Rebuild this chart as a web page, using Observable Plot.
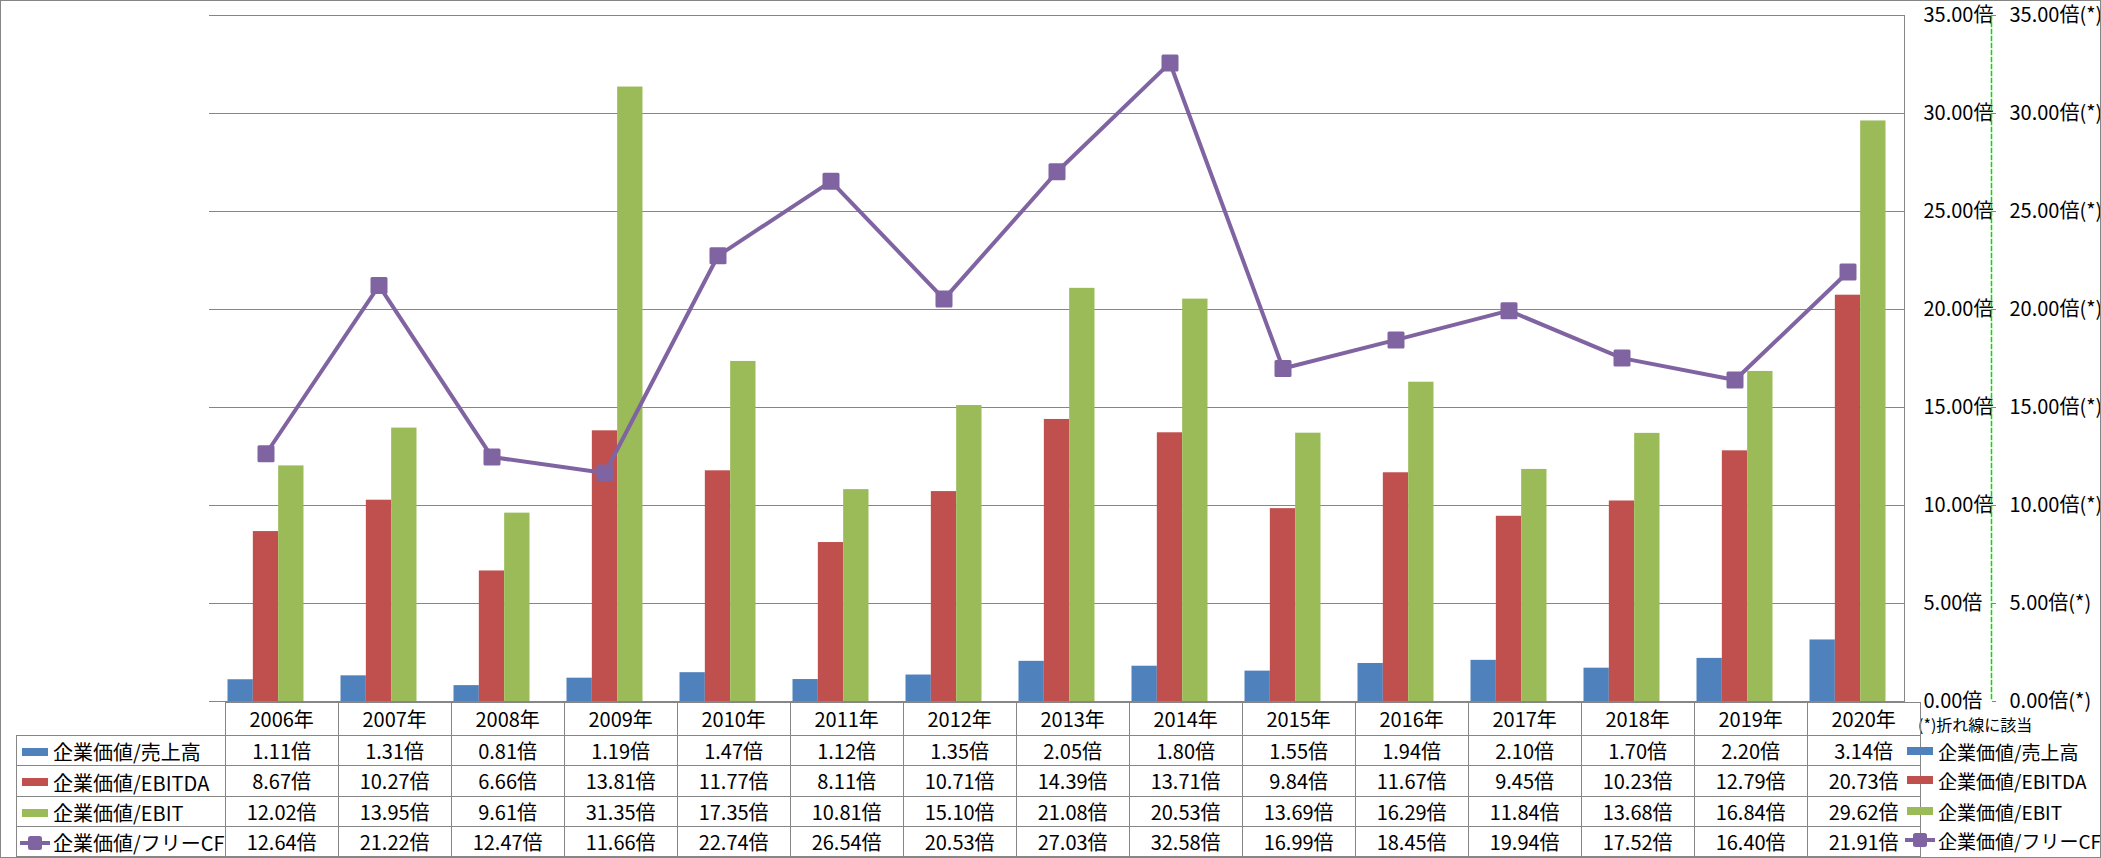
<!DOCTYPE html>
<html>
<head>
<meta charset="utf-8">
<script src="https://cdn.jsdelivr.net/npm/d3@7"></script>
<script src="https://cdn.jsdelivr.net/npm/@observablehq/plot@0.6"></script>
<style>
  html, body { margin: 0; padding: 0; background: #fff; }
  #wrap { position: relative; width: 2101px; height: 858px; overflow: hidden; background: #fff;
          font-family: "Liberation Sans Narrow", "Noto Sans CJK JP", sans-serif; color: #000; }
  #chart { position: absolute; left: 0; top: 0; }
  #border { position: absolute; left: 0; top: 0; width: 2101px; height: 858px; box-sizing: border-box;
            border: 1px solid #868686; pointer-events: none; }
  table { position: absolute; left: 16px; top: 702px; border-collapse: collapse; table-layout: fixed; font-size: 20px; }
  td { border: 1px solid #868686; text-align: center; padding: 0; white-space: nowrap; line-height: 1; }
  td.corner { border-top: none; border-left: none; }
  td.name { text-align: left; padding-left: 3px; }
  .key { display: inline-block; vertical-align: middle; margin-right: 3px; flex: none; }
  .legend { position: absolute; left: 1905px; top: 0; width: 194px; height: 858px; font-size: 19px; white-space: nowrap; }
  .legrow { position: absolute; left: 0; width: 194px; height: 24px; display: flex; align-items: center; }
  #note { position: absolute; left: 1918px; top: 712px; font-size: 16px; white-space: nowrap; }
</style>
</head>
<body>
<div id="wrap">
  <div id="chart"></div>
  <div id="note">(*)折れ線に該当</div>
  <div id="border"></div>
</div>
<script>
// ---- data ----
const years = ["2006年","2007年","2008年","2009年","2010年","2011年","2012年","2013年","2014年","2015年","2016年","2017年","2018年","2019年","2020年"];
const salesMultiple  = [1.11, 1.31, 0.81, 1.19, 1.47, 1.12, 1.35, 2.05, 1.80, 1.55, 1.94, 2.10, 1.70, 2.20, 3.14];
const ebitdaMultiple = [8.67, 10.27, 6.66, 13.81, 11.77, 8.11, 10.71, 14.39, 13.71, 9.84, 11.67, 9.45, 10.23, 12.79, 20.73];
const ebitMultiple   = [12.02, 13.95, 9.61, 31.35, 17.35, 10.81, 15.10, 21.08, 20.53, 13.69, 16.29, 11.84, 13.68, 16.84, 29.62];
const fcfMultiple    = [12.64, 21.22, 12.47, 11.66, 22.74, 26.54, 20.53, 27.03, 32.58, 16.99, 18.45, 19.94, 17.52, 16.40, 21.91];
const seriesNames  = ["企業価値/売上高", "企業価値/EBITDA", "企業価値/EBIT", "企業価値/フリーCF"];
const seriesColors = ["#4F81BD", "#C0504D", "#9BBB59", "#8064A2"];
const yTicks = [0, 5, 10, 15, 20, 25, 30, 35];

// ---- layout ----
const W = 2101, H = 703;
const mL = 209, mR = 197, mT = 15, mB = 2;
const bw = (W - mL - mR) / years.length;
const barW = 25.33;
const off0 = (bw - 3 * barW) / 2;

const barSeries = [salesMultiple, ebitdaMultiple, ebitMultiple];
const rows = (vals) => years.map((y, j) => ({year: y, v: vals[j]}));

const marks = [
  Plot.ruleY(yTicks, {stroke: "#868686", strokeOpacity: 1, strokeWidth: 1})
];
barSeries.forEach((vals, i) => {
  marks.push(Plot.barY(rows(vals), {
    x: "year", y: "v", fill: seriesColors[i],
    insetLeft: off0 + i * barW, insetRight: bw - off0 - (i + 1) * barW
  }));
});
marks.push(
  Plot.frame({anchor: "right", stroke: "#868686"}),
  Plot.line(rows(fcfMultiple), {x: "year", y: "v", stroke: seriesColors[3], strokeWidth: 4}),
  Plot.dot(rows(fcfMultiple), {x: "year", y: "v", symbol: "square", r: 7.9, fill: seriesColors[3],
    stroke: seriesColors[3], strokeWidth: 3, strokeLinejoin: "round"}),
  Plot.axisY(yTicks, {anchor: "right", tickSize: 0, tickPadding: 19, label: null,
    tickFormat: d => d.toFixed(2) + "倍", fontSize: 20, fill: "#000"}),
  Plot.axisY(yTicks, {anchor: "right", tickSize: 0, tickPadding: 105, label: null,
    tickFormat: d => d.toFixed(2) + "倍(*)", fontSize: 20, fill: "#000"}),
  Plot.frame({anchor: "right", stroke: "#00dd00", strokeWidth: 1.5, strokeDasharray: "4,3", dx: 87}),
  Plot.axisY(yTicks, {anchor: "right", tickSize: 4, label: null, tickFormat: () => "", stroke: "#00dd00", dx: 87})
);

const chart = Plot.plot({
  width: W, height: H,
  marginLeft: mL, marginRight: mR, marginTop: mT, marginBottom: mB,
  x: {domain: years, padding: 0, axis: null},
  y: {domain: [0, 35], axis: null},
  style: {fontFamily: '"Liberation Sans Narrow", "Noto Sans CJK JP", sans-serif', fontSize: "20px", background: "#fff", overflow: "visible"},
  marks
});
document.getElementById("chart").appendChild(chart);

// ---- legend key ----
function keyEl(i) {
  const ns = "http://www.w3.org/2000/svg";
  const s = document.createElementNS(ns, "svg");
  s.setAttribute("width", 30); s.setAttribute("height", 18);
  s.setAttribute("class", "key");
  if (i < 3) {
    const r = document.createElementNS(ns, "rect");
    r.setAttribute("x", 2); r.setAttribute("y", 5); r.setAttribute("width", 26); r.setAttribute("height", 8);
    r.setAttribute("fill", seriesColors[i]);
    s.appendChild(r);
  } else {
    const l = document.createElementNS(ns, "line");
    l.setAttribute("x1", 0); l.setAttribute("x2", 30); l.setAttribute("y1", 9); l.setAttribute("y2", 9);
    l.setAttribute("stroke", seriesColors[3]); l.setAttribute("stroke-width", 4);
    s.appendChild(l);
    const r = document.createElementNS(ns, "rect");
    r.setAttribute("x", 8); r.setAttribute("y", 2); r.setAttribute("width", 14); r.setAttribute("height", 14);
    r.setAttribute("rx", 2.5);
    r.setAttribute("fill", seriesColors[3]);
    s.appendChild(r);
  }
  return s;
}

// ---- data table ----
const wrap = document.getElementById("wrap");
const table = document.createElement("table");
const colgroup = document.createElement("colgroup");
const c0 = document.createElement("col"); c0.style.width = "193px"; colgroup.appendChild(c0);
years.forEach(() => { const c = document.createElement("col"); c.style.width = bw + "px"; colgroup.appendChild(c); });
table.appendChild(colgroup);
const head = document.createElement("tr"); head.style.height = "33px";
const corner = document.createElement("td"); corner.className = "corner"; head.appendChild(corner);
years.forEach(y => { const td = document.createElement("td"); td.textContent = y; head.appendChild(td); });
table.appendChild(head);
const allSeries = [salesMultiple, ebitdaMultiple, ebitMultiple, fcfMultiple];
const rowH = [30, 31, 30, 30];
allSeries.forEach((vals, i) => {
  const tr = document.createElement("tr"); tr.style.height = rowH[i] + "px";
  const nm = document.createElement("td"); nm.className = "name";
  nm.appendChild(keyEl(i));
  const sp = document.createElement("span"); sp.textContent = seriesNames[i]; sp.style.verticalAlign = "middle";
  nm.appendChild(sp);
  tr.appendChild(nm);
  vals.forEach(v => { const td = document.createElement("td"); td.textContent = v.toFixed(2) + "倍"; tr.appendChild(td); });
  table.appendChild(tr);
});
wrap.insertBefore(table, document.getElementById("border"));

// ---- right legend ----
const leg = document.createElement("div"); leg.className = "legend";
const legCenters = [751, 780, 811, 840];
seriesNames.forEach((n, i) => {
  const row = document.createElement("div"); row.className = "legrow";
  row.style.top = (legCenters[i] - 12) + "px";
  row.appendChild(keyEl(i));
  const sp = document.createElement("span"); sp.textContent = n; row.appendChild(sp);
  leg.appendChild(row);
});
wrap.insertBefore(leg, document.getElementById("border"));
</script>
</body>
</html>
